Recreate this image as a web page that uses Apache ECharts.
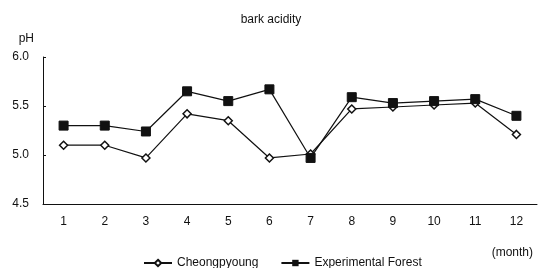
<!DOCTYPE html>
<html>
<head>
<meta charset="utf-8">
<script src="https://cdn.jsdelivr.net/npm/echarts@6/dist/echarts.min.js"></script>
<style>
html, body { margin: 0; padding: 0; background: #fff; }
#chart { width: 544px; height: 268px; }
</style>
</head>
<body>
<div id="chart"></div>
<script>
var months = ['1', '2', '3', '4', '5', '6', '7', '8', '9', '10', '11', '12'];
var cheongpyoung = [5.10, 5.10, 4.97, 5.42, 5.35, 4.97, 5.01, 5.47, 5.49, 5.51, 5.53, 5.21];
var forest = [5.30, 5.30, 5.24, 5.65, 5.55, 5.67, 4.97, 5.59, 5.53, 5.55, 5.57, 5.40];

var font = 'Liberation Sans, Arial, sans-serif';

var chart = echarts.init(document.getElementById('chart'));
chart.setOption({
    animation: false,
    backgroundColor: '#fff',
    textStyle: { fontFamily: font, color: '#111' },
    title: {
        text: 'bark acidity',
        left: 266, top: 9, textAlign: 'center',
        textStyle: { fontFamily: font, fontSize: 12, fontWeight: 'normal', color: '#111' }
    },
    legend: {
        left: 138, top: 252,
        itemWidth: 28, itemHeight: 8, itemGap: 22,
        textStyle: { fontFamily: font, fontSize: 12, color: '#111' },
        data: ['Cheongpyoung', 'Experimental Forest']
    },
    grid: { left: 43, right: 7, top: 57, bottom: 64 },
    xAxis: {
        type: 'category',
        data: months,
        boundaryGap: true,
        axisLine: { lineStyle: { color: '#111', width: 1 } },
        axisTick: { inside: true, length: 4, lineStyle: { color: '#111' } },
        axisLabel: { color: '#111', fontSize: 12, margin: 12 },
        splitLine: { show: false }
    },
    yAxis: {
        type: 'value',
        min: 4.5, max: 6.0, interval: 0.5,
        name: 'pH',
        nameGap: 12,
        nameTextStyle: { align: 'right', padding: [0, 9, 0, 0], fontSize: 12, color: '#111' },
        axisLine: { show: true, lineStyle: { color: '#111', width: 1 } },
        axisTick: { show: true, inside: true, length: 3, lineStyle: { color: '#111' } },
        axisLabel: { color: '#111', fontSize: 12, margin: 14, formatter: function (v) { return v.toFixed(1); } },
        splitLine: { show: false }
    },
    graphic: [{
        type: 'text', right: 11, top: 247,
        style: { text: '(month)', fontFamily: font, fontSize: 12, fill: '#111' }
    }],
    series: [{
        name: 'Cheongpyoung', type: 'line', data: cheongpyoung,
        symbol: 'diamond', symbolSize: 8,
        lineStyle: { color: '#111', width: 1.2 },
        itemStyle: { color: '#fff', borderColor: '#111', borderWidth: 1.5 }
    }, {
        name: 'Experimental Forest', type: 'line', data: forest,
        symbol: 'rect', symbolSize: 9,
        lineStyle: { color: '#111', width: 1.2 },
        itemStyle: { color: '#111', borderColor: '#111' }
    }]
});
</script>
</body>
</html>
